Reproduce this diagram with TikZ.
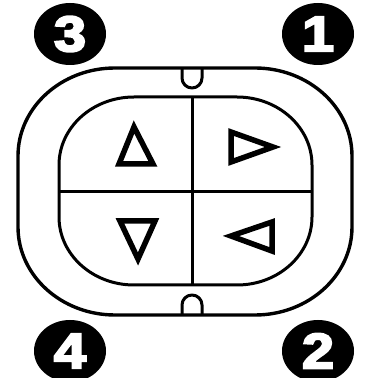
\documentclass[tikz,border=0pt]{standalone}
\usepackage{fontspec}
\newfontfamily\numfont[FakeBold=4]{Liberation Sans Bold}
\tikzset{
  badge/.style={ellipse, fill=black, minimum width=72pt, minimum height=62pt, inner sep=0pt,
    text=white, font=\numfont\fontsize{50}{50}\selectfont},
  rim/.style={line width=3.4pt, line join=round},
  tri/.style={line width=5.5pt, line join=miter},
}
\usetikzlibrary{shapes.geometric}
\begin{document}
\begin{tikzpicture}[x=1pt,y=1pt]
\useasboundingbox (0,0) rectangle (366,378);
% outer rim
\draw[rim] (115,310) -- (255,310) arc[start angle=90,end angle=0,x radius=97,y radius=88]
  -- (352,151) arc[start angle=0,end angle=-90,x radius=97,y radius=88]
  -- (115,63) arc[start angle=-90,end angle=-180,x radius=97,y radius=88]
  -- (18,222) arc[start angle=180,end angle=90,x radius=97,y radius=88] -- cycle;
% notches
\draw[rim, line width=3pt] (182,310) -- (182,300) arc[start angle=180,end angle=360,radius=10] -- (202,310);
\draw[rim, line width=3pt] (182,63) -- (182,73) arc[start angle=180,end angle=0,radius=10] -- (202,63);
% inner pad
\draw[rim, line width=3pt] (134,281) -- (237,281) arc[start angle=90,end angle=0,x radius=75,y radius=68]
  -- (312,161) arc[start angle=0,end angle=-90,x radius=75,y radius=68]
  -- (134,93) arc[start angle=-90,end angle=-180,x radius=75,y radius=68]
  -- (59,213) arc[start angle=180,end angle=90,x radius=75,y radius=68] -- cycle;
\coordinate (vt) at (192,281);
\coordinate (vb) at (192,93);
\coordinate (hl) at (59,186);
\coordinate (hr) at (312,186);
\draw[line width=3pt] (vt) -- (vb);
\draw[line width=3pt] (hl) -- (hr);
% triangles (y up: Y = 378 - y)
\draw[tri] (134,251) -- (119,214) -- (153,214) -- cycle;
\draw[tri] (231,246) -- (231,216) -- (273,231) -- cycle;
\draw[tri] (120,157) -- (155,157) -- (138,119) -- cycle;
\draw[tri] (231,142) -- (272,156) -- (272,127) -- cycle;
% badges
\node[badge] (n3) at (70,344) {\scalebox{1.15}[1]{3}};
\node[badge] (n1) at (318,344) {\scalebox{1.15}[1]{1}};
\node[badge] (n4) at (70,27) {\scalebox{1.15}[1]{4}};
\node[badge] (n2) at (318,27) {\scalebox{1.15}[1]{2}};
\end{tikzpicture}
\end{document}
